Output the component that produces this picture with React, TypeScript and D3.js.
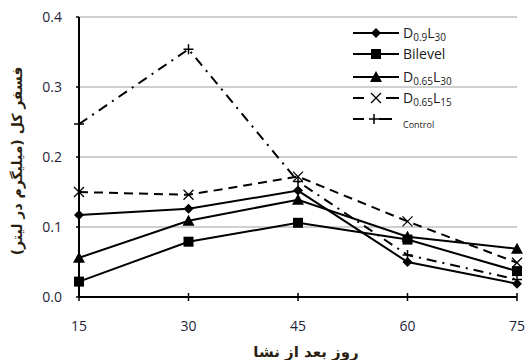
import React from "react";
import * as d3 from "d3";

const days = [15, 30, 45, 60, 75];
const yTicks = [0, 0.1, 0.2, 0.3, 0.4];
const yTickLabels = ["0.0", "0.1", "0.2", "0.3", "0.4"];
const d09L30 = [0.117, 0.126, 0.152, 0.05, 0.019];
const bilevel = [0.022, 0.079, 0.106, 0.082, 0.037];
const d065L30 = [0.056, 0.109, 0.139, 0.086, 0.069];
const d065L15 = [0.15, 0.146, 0.172, 0.108, 0.049];
const control = [0.247, 0.354, 0.165, 0.06, 0.025];

type S = { name: string; sub?: [string, string, string]; values: number[]; marker: string; dash: string; };
const series: S[] = [
  { name: "D0.9L30", sub: ["D", "0.9", "L30"], values: d09L30, marker: "diamond", dash: "" },
  { name: "Bilevel", values: bilevel, marker: "square", dash: "" },
  { name: "D0.65L30", sub: ["D", "0.65", "L30"], values: d065L30, marker: "triangle", dash: "" },
  { name: "D0.65L15", sub: ["D", "0.65", "L15"], values: d065L15, marker: "x", dash: "9,6" },
  { name: "Control", values: control, marker: "plus", dash: "10,6,2,6" },
];

const L = 79, R = 517, T = 17, B = 297;
const x = d3.scalePoint<number>().domain(days).range([L, R]);
const y = d3.scaleLinear().domain([0, 0.4]).range([B, T]);

function Marker({ type, cx, cy }: { type: string; cx: number; cy: number }) {
  if (type === "diamond") return <path d={`M${cx},${cy - 5}L${cx + 5},${cy}L${cx},${cy + 5}L${cx - 5},${cy}Z`} fill="#000" />;
  if (type === "square") return <rect x={cx - 5} y={cy - 5} width={10} height={10} fill="#000" />;
  if (type === "triangle") return <path d={`M${cx},${cy - 6}L${cx + 6},${cy + 5}L${cx - 6},${cy + 5}Z`} fill="#000" />;
  if (type === "x") return <path d={`M${cx - 5},${cy - 5}L${cx + 5},${cy + 5}M${cx + 5},${cy - 5}L${cx - 5},${cy + 5}`} stroke="#000" strokeWidth={1.3} />;
  return <path d={`M${cx - 5},${cy}L${cx + 5},${cy}M${cx},${cy - 5}L${cx},${cy + 5}`} stroke="#000" strokeWidth={1.5} />;
}

export default function App() {
  const line = d3.line<number>().x((_, i) => x(days[i])!).y((v) => y(v));
  const legCy = [33, 54, 77, 98, 119];
  const font = "'Open Sans', 'Noto Sans', sans-serif";
  return (
    <svg width={527} height={360} style={{ position: "absolute", left: 0, top: 0, background: "#fff" }} fontFamily={font}>
      {yTicks.filter((t) => t > 0).map((t) => (
        <line key={t} x1={L} x2={R} y1={y(t)} y2={y(t)} stroke="#a0a0a0" strokeWidth={1} />
      ))}
      {series.map((s) => (
        <path key={s.name} d={line(s.values)!} fill="none" stroke="#000" strokeWidth={2} strokeDasharray={s.dash} />
      ))}
      {series.map((s) => s.values.map((v, i) => <Marker key={s.name + i} type={s.marker} cx={x(days[i])!} cy={y(v)} />))}
      <line x1={L} x2={L} y1={T} y2={B} stroke="#000" strokeWidth={2} />
      <line x1={L} x2={R} y1={B} y2={B} stroke="#000" strokeWidth={2} />
      {yTicks.map((t) => <line key={"yt" + t} x1={L - 3} x2={L} y1={y(t)} y2={y(t)} stroke="#000" strokeWidth={1.5} />)}
      {days.map((d) => <line key={"xt" + d} x1={x(d)!} x2={x(d)!} y1={B - 4} y2={B + 4} stroke="#000" strokeWidth={1.5} />)}
      {yTicks.map((t, i) => (
        <text key={"yl" + t} x={62} y={y(t) + 5} textAnchor="end" fontSize={14} fill="#1f1f3a">{yTickLabels[i]}</text>
      ))}
      {days.map((d) => (
        <text key={"xl" + d} x={x(d)!} y={331} textAnchor="middle" fontSize={14} fill="#1f1f3a">{d}</text>
      ))}
      <text x={306} y={357} textAnchor="middle" fontSize={15} fontWeight="bold" fill="#2a1f10" fontFamily="'DejaVu Sans', sans-serif">روز بعد از نشا</text>
      <text transform={`translate(22,161) rotate(-90)`} textAnchor="middle" fontSize={14} fontWeight="bold" fill="#2a1f10" fontFamily="'DejaVu Sans', sans-serif">فسفر کل (میلیگرم در لیتر)</text>
      {series.map((s, i) => {
        const cy = legCy[i];
        const base = cy + 5;
        return (
          <g key={"lg" + s.name}>
            {s.dash ? (
              <g>
                <line x1={353} x2={364} y1={cy} y2={cy} stroke="#000" strokeWidth={2} />
                <line x1={s.marker === "plus" ? 379 : 386} x2={s.marker === "plus" ? 392 : 399} y1={cy} y2={cy} stroke="#000" strokeWidth={2} />
                <Marker type={s.marker} cx={s.marker === "plus" ? 374 : 376} cy={cy} />
              </g>
            ) : (
              <g>
                <line x1={353} x2={399} y1={cy} y2={cy} stroke="#000" strokeWidth={2} />
                <Marker type={s.marker} cx={376} cy={cy} />
              </g>
            )}
            {s.sub ? (
              <text x={403} y={base} fontSize={14} fill="#1a1a1a">
                {s.sub[0]}<tspan fontSize={10} dy={3}>{s.sub[1]}</tspan><tspan dy={-3}>{s.sub[2][0]}</tspan><tspan fontSize={10} dy={3}>{s.sub[2].slice(1)}</tspan>
              </text>
            ) : s.name === "Control" ? (
              <text x={403} y={base + 4} fontSize={9} fill="#1a1a1a">{s.name}</text>
            ) : (
              <text x={403} y={base} fontSize={14} fill="#1a1a1a">{s.name}</text>
            )}
          </g>
        );
      })}
    </svg>
  );
}
